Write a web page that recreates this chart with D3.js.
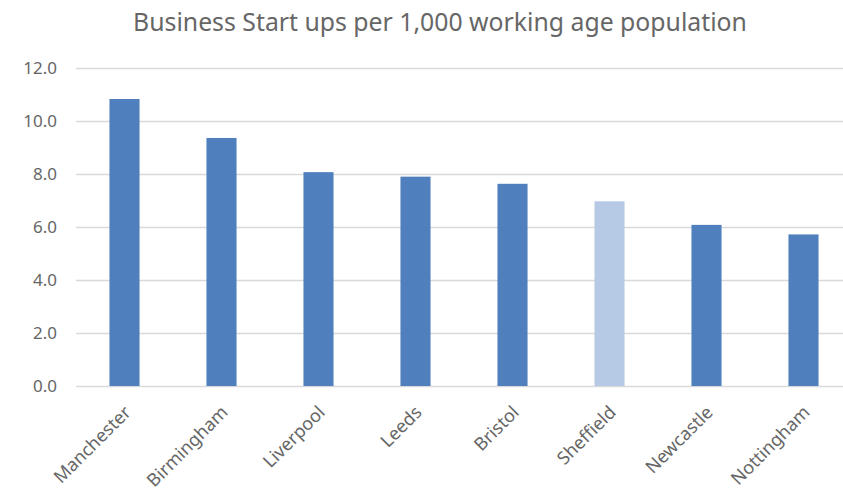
<!DOCTYPE html>
<html>
<head>
<meta charset="utf-8">
<script src="https://cdn.jsdelivr.net/npm/d3@7"></script>
<style>
  body { margin: 0; background: #fff; }
  svg { display: block; font-family: "Noto Sans", "Open Sans", sans-serif; }
</style>
</head>
<body>
<svg width="843" height="492"></svg>
<script>
// data
const cities = ["Manchester", "Birmingham", "Liverpool", "Leeds", "Bristol", "Sheffield", "Newcastle", "Nottingham"];
const startUps = [10.83, 9.36, 8.07, 7.9, 7.63, 6.97, 6.08, 5.72];
const highlight = ["Sheffield"];
const yTicks = [0, 2, 4, 6, 8, 10, 12];
const title = "Business Start ups per 1,000 working age population";

const svg = d3.select("svg"),
  width = +svg.attr("width"),
  height = +svg.attr("height");

const margin = {top: 68, left: 76, bottom: 106};

// x band scale, runs a bit past the right edge like the original crop
const x = d3.scaleBand()
  .domain(cities)
  .range([margin.left, 852])
  .paddingInner(0.69)
  .paddingOuter(0.345);

const y = d3.scaleLinear()
  .domain([0, 12])
  .range([height - margin.bottom, margin.top]);

// gridlines
svg.append("g")
  .selectAll("line")
  .data(yTicks)
  .enter()
  .append("line")
    .attr("x1", margin.left)
    .attr("x2", 852)
    .attr("y1", d => Math.round(y(d)) + 0.5)
    .attr("y2", d => Math.round(y(d)) + 0.5)
    .attr("stroke", "#d9d9d9")
    .attr("stroke-width", 1.5);

// y tick labels
svg.append("g")
  .selectAll("text")
  .data(yTicks)
  .enter()
  .append("text")
    .attr("x", 57)
    .attr("y", d => y(d))
    .attr("dy", "0.35em")
    .attr("text-anchor", "end")
    .attr("fill", "#666")
    .style("font-size", "17px")
    .text(d => d.toFixed(1));

// bars
svg.append("g")
  .selectAll("rect")
  .data(cities)
  .enter()
  .append("rect")
    .attr("x", d => x(d))
    .attr("width", x.bandwidth())
    .attr("y", (d, i) => y(startUps[i]))
    .attr("height", (d, i) => y(0) - y(startUps[i]))
    .attr("fill", d => highlight.includes(d) ? "#b6c9e5" : "#4f7fbd");

// x labels, rotated
svg.append("g")
  .selectAll("text")
  .data(cities)
  .enter()
  .append("text")
    .attr("transform", d => "translate(" + (x(d) + x.bandwidth() / 2 + 3) + "," + (y(0) + 23) + ") rotate(-45)")
    .attr("text-anchor", "end")
    .attr("dy", "0.35em")
    .attr("fill", "#666")
    .style("font-size", "18px")
    .text(d => d);

// title, fitted to the width it has in the picture
const t = svg.append("text")
  .attr("x", 440)
  .attr("y", 31)
  .attr("text-anchor", "middle")
  .attr("fill", "#666")
  .style("font-size", "20px")
  .text(title);
const tw = t.node().getComputedTextLength();
t.style("font-size", (20 * 614 / tw) + "px");
</script>
</body>
</html>
